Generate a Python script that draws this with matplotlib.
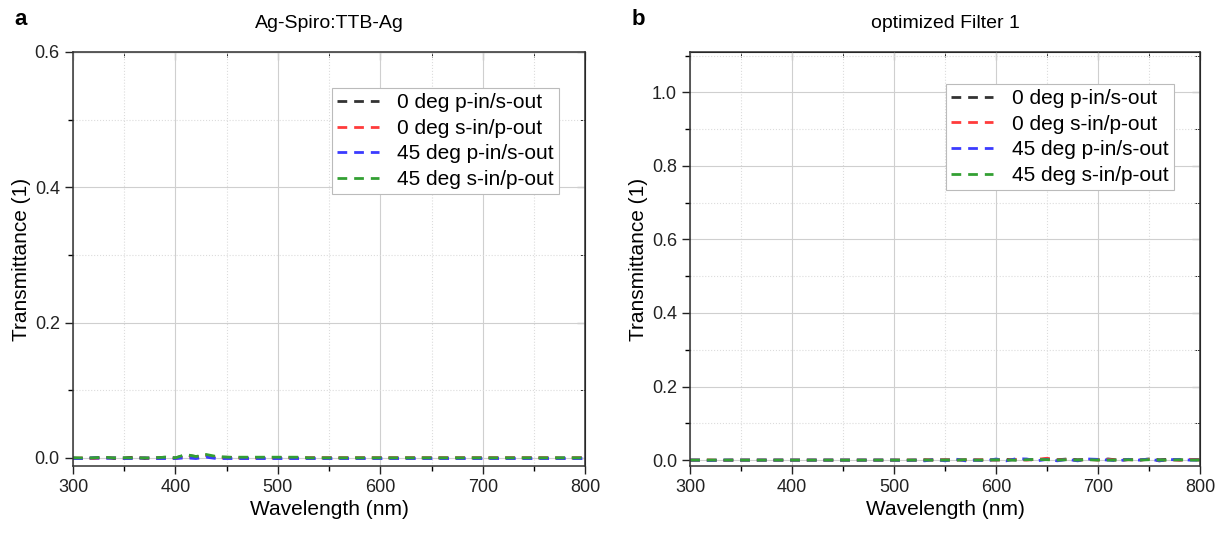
import numpy as np
import matplotlib
matplotlib.use("Agg")
import matplotlib.pyplot as plt
from matplotlib.ticker import MultipleLocator

plt.rcParams["font.family"] = ["Liberation Sans", "DejaVu Sans"]

LABELS = ["0 deg p-in/s-out", "0 deg s-in/p-out", "45 deg p-in/s-out", "45 deg s-in/p-out"]
COLORS = ["#333333", "#ff3b3b", "#3b3bff", "#33a033"]

# wavelength grid (nm), 10 nm steps
wl = list(range(300, 801, 10))

# panel a: Ag-Spiro:TTB-Ag (transmittance, nearly zero everywhere)
a_p0 = [0.000, -0.001, 0.000, 0.001, -0.001, 0.000, 0.001, -0.001, 0.000, 0.001,
        0.000, 0.004, 0.002, 0.003, 0.001, 0.001, 0.000, 0.000, 0.000, 0.000,
        0.000, 0.000, 0.000, 0.000, 0.000, 0.000, 0.000, 0.000, 0.000, 0.000,
        0.000, 0.000, 0.000, 0.000, 0.000, 0.000, 0.000, 0.000, 0.000, 0.000,
        0.000, 0.000, 0.000, 0.000, 0.000, 0.000, 0.000, 0.000, 0.000, 0.000, 0.000]
a_s0 = [-0.001, 0.000, -0.001, 0.000, 0.000, -0.001, 0.000, 0.000, -0.001, 0.000,
        -0.001, 0.002, 0.000, 0.004, 0.000, 0.000, 0.000, -0.001, 0.000, 0.000,
        0.000, 0.000, 0.000, 0.000, 0.000, 0.000, 0.000, 0.000, 0.000, 0.000,
        0.000, 0.000, 0.000, 0.000, 0.000, 0.000, 0.000, 0.000, 0.000, 0.000,
        0.000, 0.000, 0.000, 0.000, 0.000, 0.000, 0.000, 0.000, -0.001, 0.000, 0.000]
a_p45 = [-0.001, -0.001, 0.000, -0.001, 0.000, -0.001, -0.001, 0.000, -0.001, -0.001,
         -0.001, 0.000, -0.001, 0.001, -0.001, -0.001, -0.001, -0.001, -0.001, -0.001,
         -0.001, -0.001, -0.001, -0.001, -0.001, -0.001, -0.001, -0.001, -0.001, -0.001,
         -0.001, -0.001, -0.001, -0.001, -0.001, -0.001, -0.001, -0.001, -0.001, -0.001,
         -0.001, -0.001, -0.001, -0.001, -0.001, -0.001, -0.001, -0.001, -0.001, -0.001, -0.001]
a_s45 = [0.000, 0.000, 0.000, 0.001, 0.000, 0.000, 0.000, 0.000, 0.000, 0.001,
         0.000, 0.005, 0.002, 0.005, 0.002, 0.001, 0.001, 0.001, 0.001, 0.001,
         0.001, 0.001, 0.001, 0.000, 0.000, 0.000, 0.000, 0.000, 0.000, 0.000,
         0.000, 0.000, 0.000, 0.000, 0.000, 0.000, 0.000, 0.000, 0.000, 0.000,
         0.000, 0.000, 0.000, 0.000, 0.000, 0.000, 0.000, 0.000, 0.000, 0.000, 0.000]

# panel b: optimized Filter 1
b_p0 = [0.000, 0.000, 0.000, 0.000, 0.000, 0.000, 0.000, 0.000, 0.000, 0.000,
        0.000, 0.000, 0.000, 0.000, 0.000, 0.000, 0.000, 0.000, 0.000, 0.000,
        0.000, 0.000, 0.000, 0.001, 0.000, 0.001, 0.000, 0.001, 0.000, 0.001,
        0.000, 0.002, 0.000, 0.002, 0.001, 0.003, 0.001, 0.003, 0.001, 0.002,
        0.001, 0.003, 0.000, 0.002, 0.000, 0.003, 0.001, 0.002, 0.000, 0.002, 0.001]
b_s0 = [0.000, 0.000, 0.000, -0.001, 0.000, 0.000, 0.000, 0.000, 0.000, 0.000,
        0.000, 0.000, 0.000, 0.000, 0.000, 0.000, 0.000, 0.000, 0.000, 0.000,
        0.000, 0.000, 0.000, 0.000, 0.001, 0.000, 0.001, 0.000, 0.001, 0.000,
        0.001, 0.000, 0.002, 0.000, 0.002, 0.005, 0.000, 0.002, -0.001, 0.002,
        0.000, 0.002, -0.001, 0.001, 0.000, 0.002, -0.002, 0.001, 0.000, 0.002, 0.000]
b_p45 = [0.000, 0.000, -0.001, 0.000, 0.000, 0.000, 0.000, 0.000, 0.000, 0.000,
         0.000, 0.000, 0.000, 0.000, 0.000, 0.000, 0.000, 0.000, 0.000, 0.000,
         0.000, -0.001, 0.000, -0.002, 0.002, -0.002, 0.003, -0.002, 0.000, -0.002,
         0.003, -0.002, 0.004, 0.003, -0.002, 0.002, -0.002, 0.002, -0.002, 0.003,
         0.002, 0.000, -0.002, 0.002, 0.000, 0.003, -0.002, 0.001, 0.002, 0.000, 0.000]
b_s45 = [0.000, 0.000, 0.000, 0.000, 0.000, 0.000, 0.000, 0.000, 0.000, 0.000,
         0.000, 0.000, 0.000, 0.000, 0.000, 0.000, 0.000, 0.000, 0.000, 0.000,
         0.000, 0.000, 0.000, 0.000, 0.000, 0.000, 0.000, 0.001, 0.000, 0.000,
         0.001, 0.000, 0.000, 0.001, 0.002, 0.001, 0.000, 0.001, 0.000, 0.001,
         0.000, 0.000, 0.000, 0.001, 0.000, 0.001, 0.000, 0.000, 0.001, 0.000, 0.000]

PANELS = [
    ("a", "Ag-Spiro:TTB-Ag", [a_p0, a_s0, a_p45, a_s45], (-0.012, 0.6), 0.1, [0.0, 0.2, 0.4, 0.6]),
    ("b", "optimized Filter 1", [b_p0, b_s0, b_p45, b_s45], (-0.016, 1.11), 0.1, [0.0, 0.2, 0.4, 0.6, 0.8, 1.0]),
]
AX_POS = [[0.0595, 0.129, 0.4175, 0.774], [0.5625, 0.129, 0.4155, 0.774]]
LEGEND_ANCHOR = [(0.505, 0.913), (0.502, 0.923)]

fig = plt.figure(figsize=(12.27, 5.35), dpi=100)
for k, (letter, title, series, ylim, minor, yticks) in enumerate(PANELS):
    ax = fig.add_axes(AX_POS[k])
    for vals, lab, col in zip(series, LABELS, COLORS):
        ax.plot(wl, vals, ls=(0, (3.5, 2.5)), lw=2.0, color=col, label=lab)
    ax.set_xlim(300, 800)
    ax.set_ylim(*ylim)
    ax.set_xticks([300, 400, 500, 600, 700, 800])
    ax.set_yticks(yticks)
    ax.xaxis.set_minor_locator(MultipleLocator(50))
    ax.yaxis.set_minor_locator(MultipleLocator(minor))
    ax.grid(which="major", color="#cfcfcf", lw=0.8)
    ax.grid(which="minor", color="#dcdcdc", lw=0.8, ls=":")
    ax.set_axisbelow(True)
    ax.tick_params(which="major", direction="out", length=6, width=1, labelsize=13, colors="#222222")
    ax.tick_params(which="minor", direction="out", length=3.5, width=1)
    for s in ax.spines.values():
        s.set_linewidth(1.1)
        s.set_color("#333333")
    # inward ticks on top and right
    top = ax.secondary_xaxis("top")
    top.set_xticks([300, 400, 500, 600, 700, 800])
    top.xaxis.set_minor_locator(MultipleLocator(50))
    top.tick_params(which="both", direction="in", labeltop=False)
    top.tick_params(which="major", length=6)
    top.tick_params(which="minor", length=3.5)
    right = ax.secondary_yaxis("right")
    right.set_yticks(yticks)
    right.yaxis.set_minor_locator(MultipleLocator(minor))
    right.tick_params(which="both", direction="in", labelright=False)
    right.tick_params(which="major", length=6)
    right.tick_params(which="minor", length=3.5)
    ax.set_xlabel("Wavelength (nm)", fontsize=15, labelpad=3)
    ax.set_ylabel("Transmittance (1)", fontsize=15, labelpad=3)
    ax.set_title(title, fontsize=14, pad=17)
    ax.text(-0.115, 1.065, letter, transform=ax.transAxes, fontsize=16, fontweight="bold")
    leg = ax.legend(loc="upper left", bbox_to_anchor=LEGEND_ANCHOR[k], fontsize=15,
                    frameon=True, fancybox=False, edgecolor="#bbbbbb", framealpha=1,
                    handlelength=2.0, borderpad=0.25, labelspacing=0.32, handletextpad=0.9,
                    borderaxespad=0)
    leg.get_frame().set_linewidth(0.8)

fig.savefig("out.png", dpi=100)
